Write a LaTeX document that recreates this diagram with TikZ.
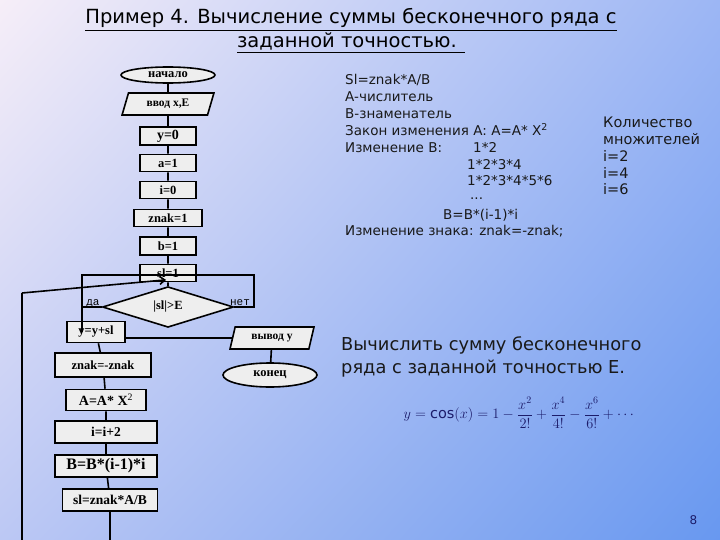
\documentclass[tikz,border=0pt]{standalone}
\usepackage{amsmath}
\usepackage{fontspec}
\setmainfont{DejaVu Sans}
\setmonofont{Liberation Mono}
\newfontfamily\blokfont{Liberation Serif}
\usepackage{tikz}
\usetikzlibrary{arrows.meta,shapes.geometric,shadings}
\usepackage{xcolor}
\definecolor{bgtl}{HTML}{F6EEF8}
\definecolor{bgtr}{HTML}{9CB6F4}
\definecolor{bgbl}{HTML}{BCC8F4}
\definecolor{bgbr}{HTML}{6898F0}
\definecolor{boxgray}{HTML}{EEEEEE}
\definecolor{navy}{HTML}{1C1C6A}

\begin{document}
\begin{tikzpicture}[
  x=1pt,y=-1pt,
  >={Straight Barb[length=5pt,width=8pt]},
  link/.style={line width=1.6pt,draw=black},
  blok/.style={draw=black,line width=1.6pt,fill=boxgray,inner sep=0pt,
               minimum height=18pt,font=\blokfont\bfseries\fontsize{12.5}{13}\selectfont},
  term/.style={blok,ellipse,minimum width=94pt,minimum height=16pt},
  io/.style={blok,trapezium,trapezium left angle=70,trapezium right angle=110,
             trapezium stretches=true,minimum height=22pt},
  cond/.style={blok,diamond,minimum width=131pt,minimum height=29pt},
  note/.style={anchor=base west,inner sep=0pt,text=black!90,font=\fontsize{13.5}{15}\selectfont},
  count/.style={note,font=\fontsize{14.5}{16}\selectfont},
  task/.style={anchor=base west,inner sep=0pt,text=black!90,font=\fontsize{17.8}{20}\selectfont},
  branch/.style={inner sep=0pt,font=\ttfamily\fontsize{11}{11}\selectfont}
]
\useasboundingbox (0,0) rectangle (720,540);
\shade[upper left=bgtl,upper right=bgtr,lower left=bgbl,lower right=bgbr]
  (0,0) rectangle (720,540);

% title
\node[font=\fontsize{19.5}{24}\selectfont,align=center] (title) at (351,31)
  {\underline{Пример 4. Вычисление суммы бесконечного ряда с}\\
   \underline{заданной точностью. }};

% flowchart, main column
\node[term] (start) at (168,75) {начало};
\node[io,minimum width=92pt,font=\blokfont\bfseries\fontsize{11.5}{12}\selectfont] (input) at (168,104) {ввод x,E};
\node[blok,minimum width=56pt,font=\blokfont\bfseries\fontsize{14}{14}\selectfont] (y0) at (168,136) {y=0};
\node[blok,minimum width=56pt,minimum height=17pt] (a1) at (168,163) {a=1};
\node[blok,minimum width=56pt,minimum height=17pt] (i0) at (168,190) {i=0};
\node[blok,minimum width=68pt,minimum height=17pt] (znak1) at (168,218) {znak=1};
\node[blok,minimum width=56pt] (b1) at (168,246) {b=1};
\node[blok,minimum width=56pt,minimum height=17pt] (sl1) at (168,273) {sl=1};
\node[cond] (test) at (168,307) {|sl|>E};

% loop body
\node[blok,minimum width=58pt,minimum height=21pt] (ysum) at (96,332) {y=y+sl};
\node[blok,minimum width=96pt,minimum height=24pt] (negznak) at (103,365) {znak=-znak};
\node[blok,minimum width=80pt,minimum height=21pt,font=\blokfont\bfseries\fontsize{14}{14}\selectfont] (anum) at (106,400) {A=A* X\textsuperscript{\mdseries 2}};
\node[blok,minimum width=102pt,minimum height=22pt,font=\blokfont\bfseries\fontsize{13.5}{14}\selectfont] (iinc) at (106,432) {i=i+2};
\node[blok,minimum width=102pt,minimum height=22pt,font=\blokfont\bfseries\fontsize{16}{16}\selectfont] (bden) at (106,466) {B=B*(i-1)*i};
\node[blok,minimum width=95pt,minimum height=22pt,font=\blokfont\bfseries\fontsize{13.5}{14}\selectfont] (slnew) at (110,500) {sl=znak*A/B};

% exit
\node[io,minimum width=84pt,font=\blokfont\bfseries\fontsize{11.5}{12}\selectfont] (output) at (272,338) {вывод y};
\node[term,minimum height=24pt] (stop) at (270,375) {конец};

\coordinate (jl) at (82,275);
\coordinate (jr) at (254,275);
\coordinate (back) at (22,293);
\coordinate (backend) at (22,540);

\draw[link] (start) -- (input) -- (y0) -- (a1) -- (i0) -- (znak1) -- (b1) -- (sl1) -- (test);
\draw[link] (test.east) -| (jr) -- (jl) -- (jl |- ysum.center);
\draw[link] (test.west) -- (test.west -| jl);
\draw[link] (ysum) -- (negznak) -- (anum) -- (iinc) -- (bden) -- (slnew);
\draw[link] (slnew.south) -- (slnew.south |- backend);
\draw[link] (backend) -- (back);
\draw[link,->] (back) -- ([xshift=-2pt,yshift=6pt]test.north);
\draw[link] ([yshift=-6pt]ysum.east) -- (output.west);
\draw[link] (output) -- (stop);

\node[branch,anchor=base] (yes) at (93,305) {да};
\node[branch,anchor=base] (no) at (240,305) {нет};

% notes
\node[note] (n1) at (345,85) {Sl=znak*A/B};
\node[note] (n2) at (345,102) {A-числитель};
\node[note] (n3) at (345,119) {B-знаменатель};
\node[note] (n4) at (345,136) {Закон изменения А: А=А* X\textsuperscript{2}};
\node[note] (n5) at (345,153) {Изменение B:};
\node[note] (n5b) at (473,153) {1*2};
\node[note] (n6) at (467,170) {1*2*3*4};
\node[note] (n7) at (467,186) {1*2*3*4*5*6};
\node[note] (n8) at (470,200) {...};
\node[note] (n9) at (443,219) {B=B*(i-1)*i};
\node[note] (n10) at (345,236) {Изменение знака: znak=-znak;};
\node[count] (m1) at (603,128) {Количество};
\node[count] (m2) at (603,145) {множителей};
\node[count] (m3) at (603,162) {i=2};
\node[count] (m4) at (603,179) {i=4};
\node[count] (m5) at (603,195) {i=6};

% task
\node[task] (t1) at (341,350) {Вычислить сумму бесконечного};
\node[task] (t2) at (341,373) {ряда с заданной точностью Е.};
\node[text=navy,font=\fontsize{14.5}{17}\selectfont] (series) at (520,413)
  {$y=\cos(x)=1-\dfrac{x^2}{2!}+\dfrac{x^4}{4!}-\dfrac{x^6}{6!}+\cdots$};

\node[anchor=base west,text=navy,font=\fontsize{12}{12}\selectfont] (page) at (686,524) {8};
\end{tikzpicture}
\end{document}
